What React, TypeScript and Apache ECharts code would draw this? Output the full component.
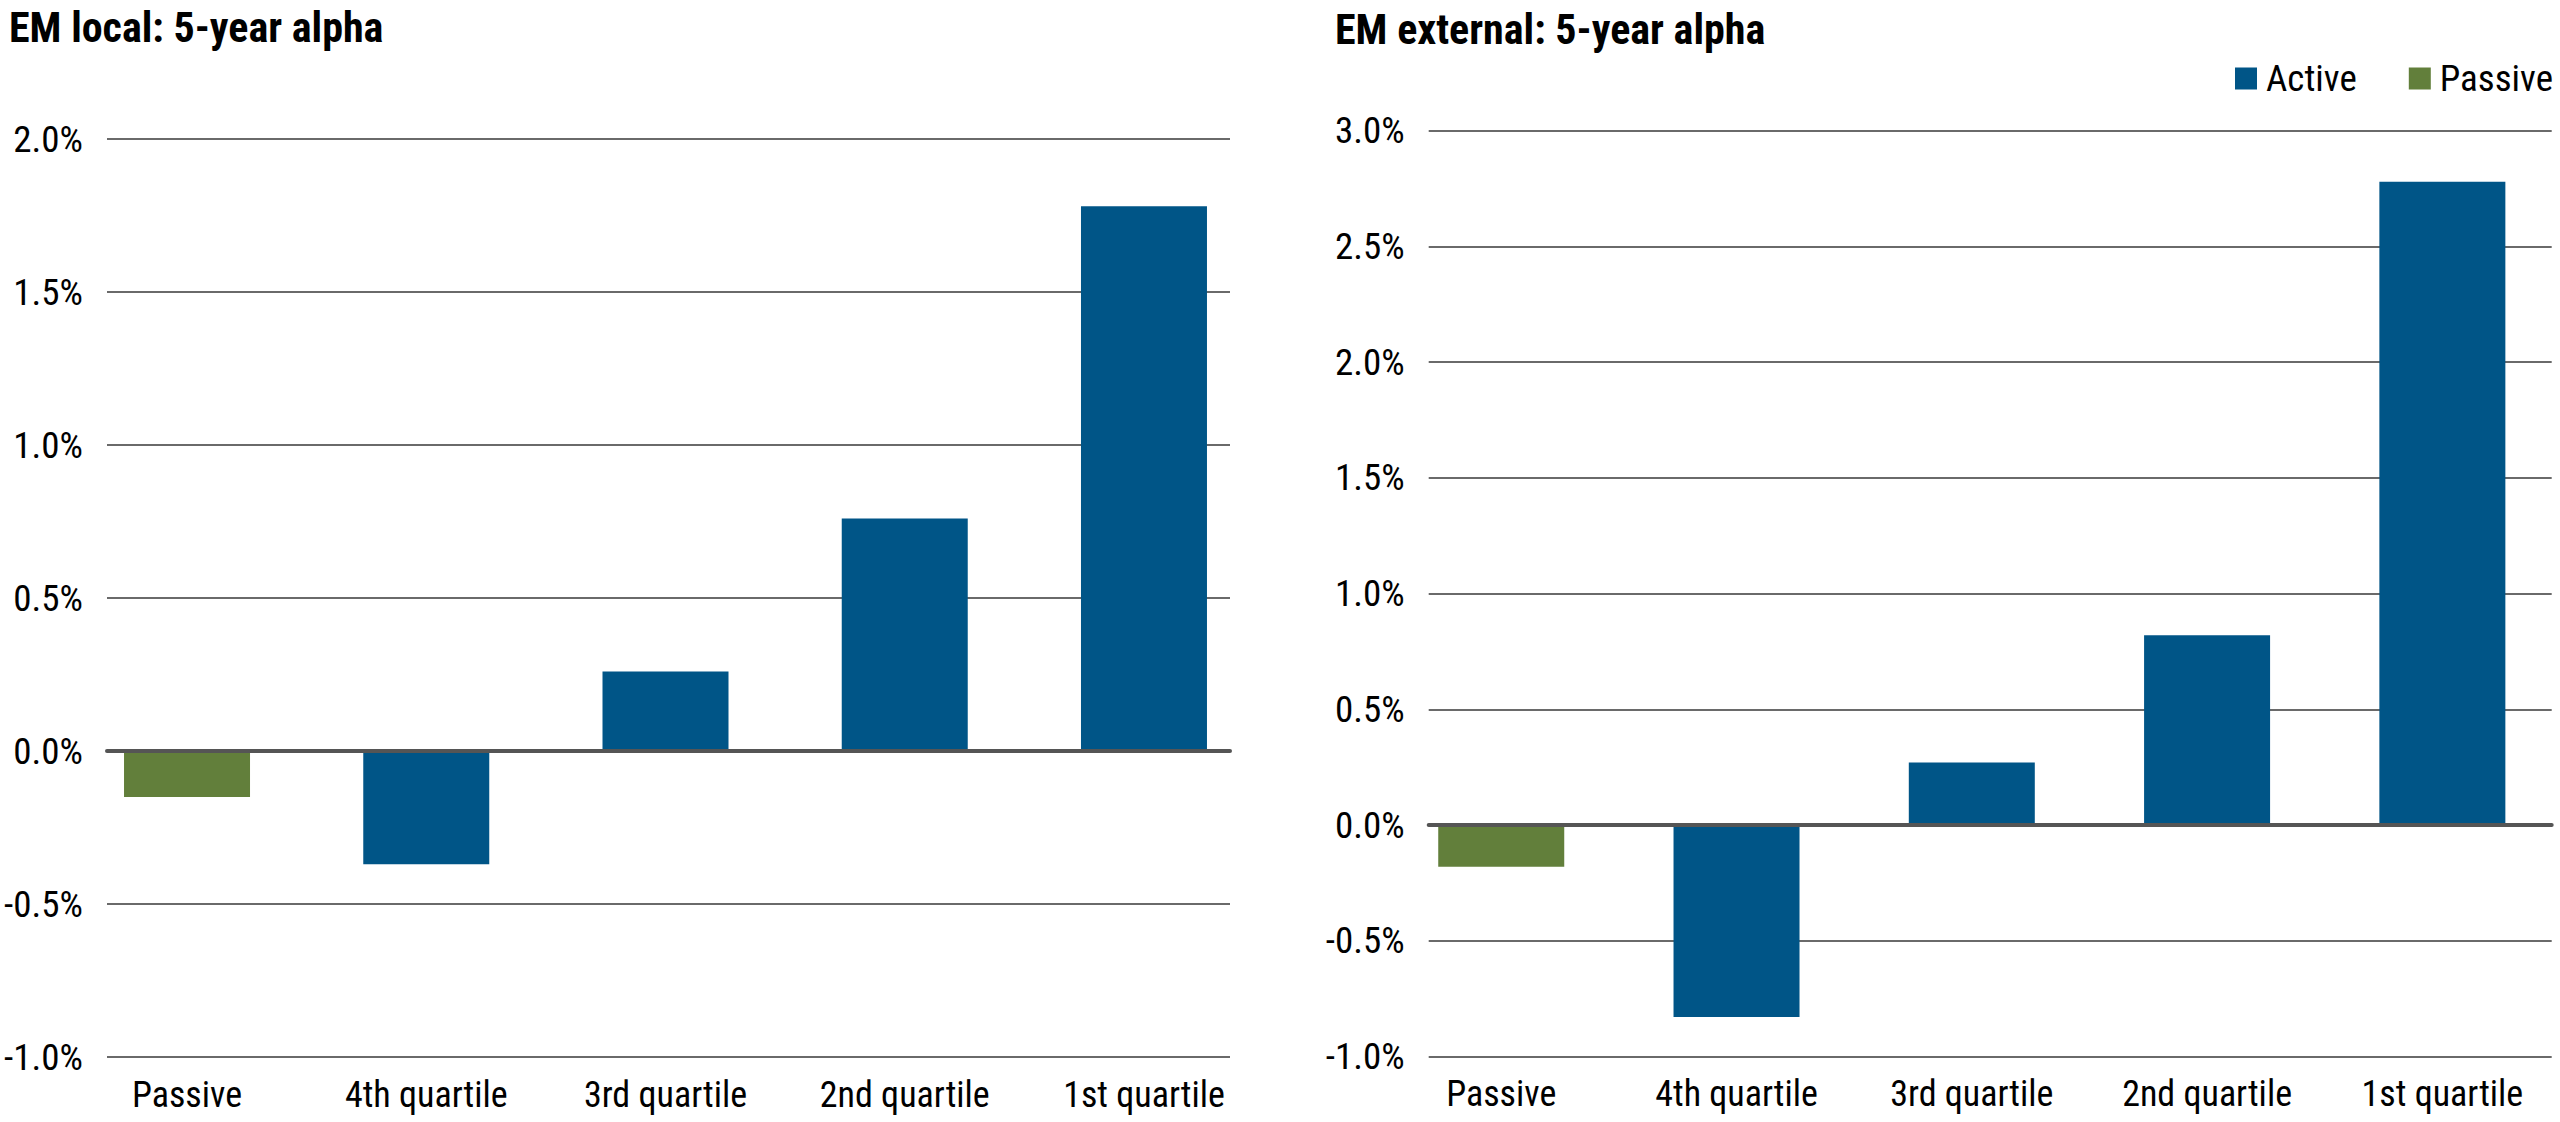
import React, { useEffect, useRef } from "react";
import * as echarts from "echarts";

const categories = ["Passive", "4th quartile", "3rd quartile", "2nd quartile", "1st quartile"];
const localActive = [null, -0.37, 0.26, 0.76, 1.78];
const localPassive = [-0.15, null, null, null, null];
const externalActive = [null, -0.83, 0.27, 0.82, 2.78];
const externalPassive = [-0.18, null, null, null, null];
const localRange = [-1, 2];
const externalRange = [-1, 3];
const tickStep = 0.5;
const titles = ["EM local: 5-year alpha", "EM external: 5-year alpha"];
const seriesNames = ["Active", "Passive"];

const BLUE = "#005587";
const GREEN = "#627F3B";
const FONT = "'Liberation Sans Narrow', 'Roboto Condensed', 'DejaVu Sans Condensed', Roboto, sans-serif";

export default function App() {
  const ref = useRef<HTMLDivElement>(null);
  useEffect(() => {
    document.body.style.margin = "0";
    const chart = echarts.init(ref.current!, null, { renderer: "svg" });
    const fmt = (v: number) => v.toFixed(1) + "%";

    const lineGrid = (idx: number, min: number, max: number) => ({
      gridIndex: idx,
      type: "value",
      min,
      max,
      interval: tickStep,
      axisLine: { show: false },
      axisTick: { show: false },
      splitLine: { show: true, lineStyle: { color: "#6a6a6a", width: 2 } },
      axisLabel: { formatter: fmt, fontSize: 37, color: "#000", fontFamily: FONT, margin: 24 },
    });
    const barY = (idx: number, min: number, max: number) => ({
      gridIndex: idx,
      type: "value",
      min,
      max,
      interval: tickStep,
      show: false,
      splitLine: { show: false },
    });
    const hiddenX = (idx: number) => ({
      gridIndex: idx,
      type: "category",
      data: categories,
      z: 5,
      axisLine: { show: true, onZero: true, lineStyle: { color: "#555", width: 4 } },
      axisTick: { show: false },
      axisLabel: { show: false },
      splitLine: { show: false },
    });
    const barX = (idx: number) => ({
      gridIndex: idx,
      type: "category",
      data: categories,
      axisLine: { show: false, onZero: false },
      axisTick: { show: false },
      axisLabel: { fontSize: 36, color: "#000", fontFamily: FONT, margin: 20, lineHeight: 36 },
      splitLine: { show: false },
    });

    const mkBar = (name: string, data: (number | null)[], color: string, axis: number) => ({
      name,
      type: "bar",
      xAxisIndex: axis,
      yAxisIndex: axis,
      data,
      barWidth: 126,
      barGap: "-100%",
      itemStyle: { color },
      z: 2,
    });

    chart.setOption({
      animation: false,
      title: [
        {
          text: titles[0],
          left: 4,
          top: 1,
          textStyle: { fontSize: 42, fontWeight: "bold", color: "#000", fontFamily: FONT },
        },
        {
          text: titles[1],
          left: 1330,
          top: 3,
          textStyle: { fontSize: 42, fontWeight: "bold", color: "#000", fontFamily: FONT },
        },
      ],
      legend: {
        data: seriesNames,
        right: 7,
        top: 60,
        padding: 0,
        itemWidth: 22,
        itemHeight: 22,
        itemGap: 52,
        icon: "rect",
        textStyle: { fontSize: 37, color: "#000", fontFamily: FONT, padding: [0, 0, 0, 4] },
      },
      grid: [
        { left: 107, width: 1123, top: 139, height: 918 },
        { left: 67.4, width: 1196.2, top: 139, height: 918 },
        { left: 1428.7, width: 1123, top: 130.8, height: 925.6 },
        { left: 1383.6, width: 1196, top: 130.8, height: 925.6 },
      ],
      xAxis: [hiddenX(0), barX(1), hiddenX(2), barX(3)],
      yAxis: [
        lineGrid(0, localRange[0], localRange[1]),
        barY(1, localRange[0], localRange[1]),
        lineGrid(2, externalRange[0], externalRange[1]),
        barY(3, externalRange[0], externalRange[1]),
      ],
      series: [
        mkBar(seriesNames[0], localActive, BLUE, 1),
        mkBar(seriesNames[1], localPassive, GREEN, 1),
        mkBar(seriesNames[0], externalActive, BLUE, 3),
        mkBar(seriesNames[1], externalPassive, GREEN, 3),
      ],
    });
    return () => chart.dispose();
  }, []);
  return <div ref={ref} style={{ width: 2560, height: 1122 }} />;
}
